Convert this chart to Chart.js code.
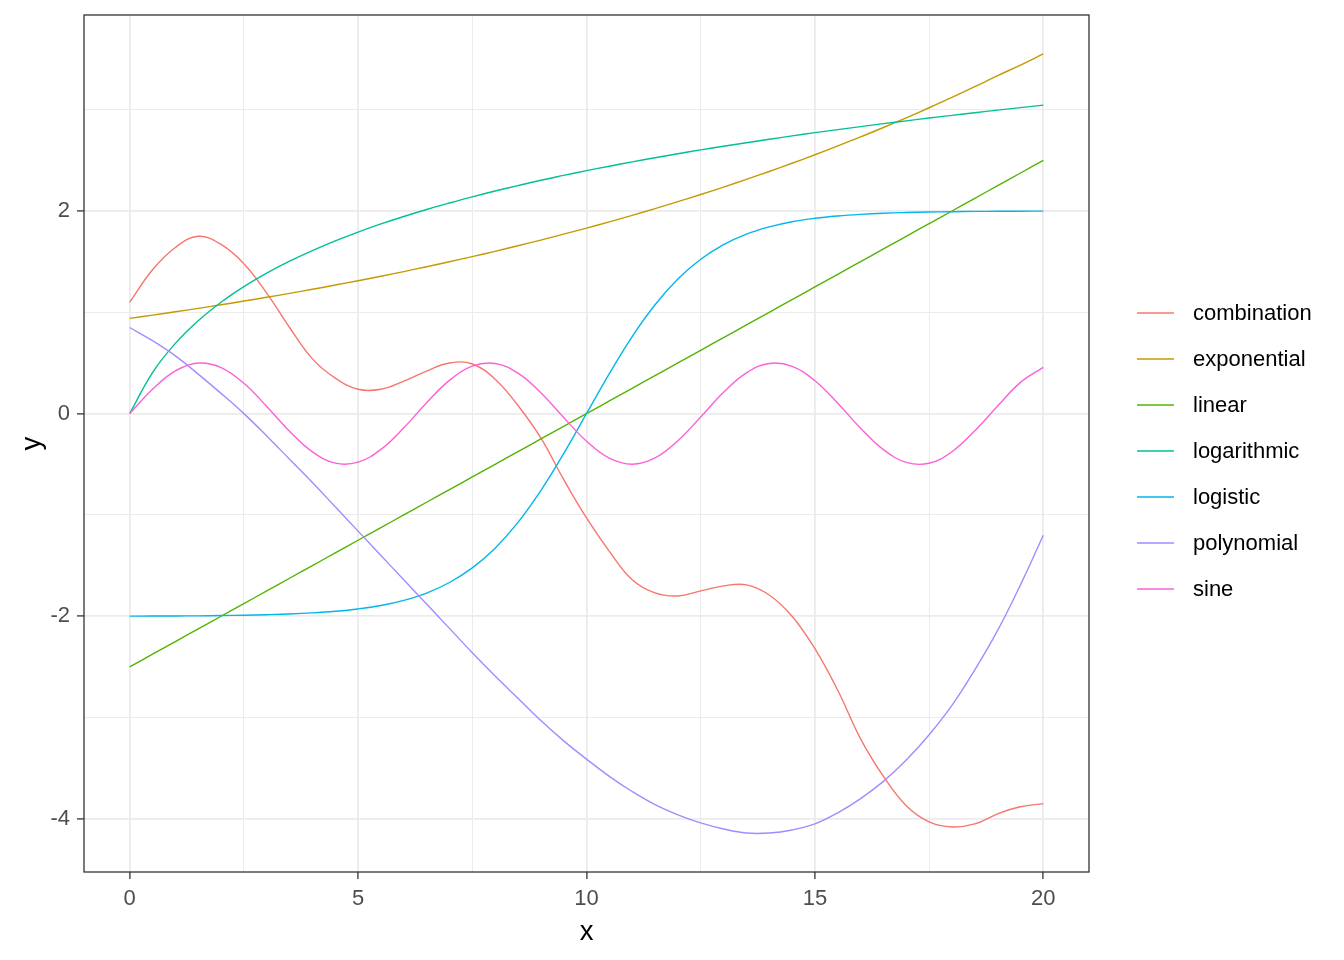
<!DOCTYPE html>
<html lang="en">
<head>
<meta charset="utf-8">
<title>Curves</title>
<script src="https://cdn.jsdelivr.net/npm/chart.js"></script>
<style>
  body { margin: 0; background: #fff; }
  #wrap { width: 1344px; height: 960px; position: relative; }
</style>
</head>
<body>
<div id="wrap"><canvas id="myChart"></canvas></div>
<script>
// x positions and values
const xs = [0, 0.5, 1, 1.5, 2, 2.5, 3, 3.5, 4, 4.5, 5, 5.5, 6, 6.5, 7, 7.5, 8, 8.5, 9, 9.5,
            10, 10.5, 11, 11.5, 12, 12.5, 13, 13.5, 14, 14.5, 15, 15.5, 16, 16.5, 17, 17.5, 18, 18.5, 19, 19.5, 20];

const combination = [1.10, 1.42, 1.64, 1.75, 1.67, 1.48, 1.19, 0.85, 0.54, 0.35, 0.24, 0.24, 0.32, 0.42, 0.50, 0.49, 0.34, 0.08, -0.24, -0.65,
                     -1.03, -1.36, -1.64, -1.77, -1.80, -1.75, -1.70, -1.69, -1.79, -2.00, -2.32, -2.73, -3.21, -3.58, -3.87, -4.03, -4.08, -4.05, -3.95, -3.88, -3.85];
const exponential = [0.940, 0.972, 1.005, 1.039, 1.074, 1.111, 1.148, 1.187, 1.227, 1.269, 1.312, 1.356, 1.402, 1.450, 1.499, 1.550, 1.602, 1.657, 1.713, 1.771,
                     1.831, 1.893, 1.957, 2.023, 2.092, 2.163, 2.236, 2.312, 2.390, 2.471, 2.555, 2.642, 2.731, 2.824, 2.920, 3.019, 3.121, 3.227, 3.336, 3.440, 3.550];
const linear = [-2.5, -2.375, -2.25, -2.125, -2, -1.875, -1.75, -1.625, -1.5, -1.375, -1.25, -1.125, -1, -0.875, -0.75, -0.625, -0.5, -0.375, -0.25, -0.125,
                0, 0.125, 0.25, 0.375, 0.5, 0.625, 0.75, 0.875, 1, 1.125, 1.25, 1.375, 1.5, 1.625, 1.75, 1.875, 2, 2.125, 2.25, 2.375, 2.5];
const logarithmic = [0, 0.405, 0.693, 0.916, 1.099, 1.253, 1.386, 1.504, 1.609, 1.705, 1.792, 1.872, 1.946, 2.015, 2.079, 2.140, 2.197, 2.251, 2.303, 2.351,
                     2.398, 2.442, 2.485, 2.526, 2.565, 2.603, 2.639, 2.674, 2.708, 2.741, 2.773, 2.803, 2.833, 2.862, 2.890, 2.918, 2.944, 2.970, 2.996, 3.020, 3.045];
const logistic = [-1.999, -1.998, -1.997, -1.996, -1.993, -1.990, -1.985, -1.978, -1.967, -1.951, -1.928, -1.894, -1.843, -1.771, -1.667, -1.523, -1.328, -1.074, -0.760, -0.395,
                  0, 0.395, 0.760, 1.074, 1.328, 1.523, 1.667, 1.771, 1.843, 1.894, 1.928, 1.951, 1.967, 1.978, 1.985, 1.990, 1.993, 1.996, 1.997, 1.998, 1.999];
const polynomial = [0.85, 0.72, 0.57, 0.39, 0.20, 0.00, -0.22, -0.45, -0.68, -0.92, -1.16, -1.40, -1.64, -1.88, -2.12, -2.36, -2.59, -2.81, -3.03, -3.23,
                    -3.41, -3.58, -3.73, -3.86, -3.96, -4.04, -4.10, -4.14, -4.14, -4.11, -4.05, -3.94, -3.80, -3.63, -3.42, -3.17, -2.88, -2.53, -2.14, -1.69, -1.20];
const sine = [0, 0.240, 0.421, 0.499, 0.455, 0.299, 0.071, -0.175, -0.378, -0.489, -0.479, -0.353, -0.140, 0.108, 0.328, 0.469, 0.495, 0.399, 0.206, -0.038,
              -0.272, -0.440, -0.500, -0.438, -0.268, -0.033, 0.210, 0.402, 0.495, 0.467, 0.325, 0.103, -0.144, -0.356, -0.481, -0.490, -0.376, -0.170, 0.075, 0.308, 0.456];

const seriesNames = ['combination', 'exponential', 'linear', 'logarithmic', 'logistic', 'polynomial', 'sine'];
const seriesValues = [combination, exponential, linear, logarithmic, logistic, polynomial, sine];
const seriesColors = ['#F8766D', '#C49A00', '#53B400', '#00C094', '#00B6EB', '#A58AFF', '#FB61D7'];

const xTicks = [0, 2.5, 5, 7.5, 10, 12.5, 15, 17.5, 20];
const xTickLabels = ['0', '', '5', '', '10', '', '15', '', '20'];
const yTicks = [-4, -3, -2, -1, 0, 1, 2, 3];
const yTickLabels = ['-4', '', '-2', '', '0', '', '2', ''];

const FONT = '"Liberation Sans", Arial, sans-serif';

function gridWidth(labels) {
    return c => labels[c.index] ? 1.8 : 1.0;
}
function tickColor(labels) {
    return c => labels[c.index] ? '#333333' : 'rgba(0,0,0,0)';
}

const panelBorder = {
    id: 'panelBorder',
    afterDatasetsDraw(chart) {
        const a = chart.chartArea, ctx = chart.ctx;
        ctx.save();
        ctx.strokeStyle = '#333333';
        ctx.lineWidth = 1.3;
        ctx.strokeRect(a.left, a.top, a.right - a.left, a.bottom - a.top);
        ctx.restore();
    }
};

const sideLegend = {
    id: 'sideLegend',
    afterDraw(chart) {
        const ctx = chart.ctx;
        ctx.save();
        ctx.font = '22px ' + FONT;
        ctx.textBaseline = 'middle';
        ctx.textAlign = 'left';
        chart.data.datasets.forEach((ds, i) => {
            const y = 313 + i * 46;
            ctx.strokeStyle = ds.borderColor;
            ctx.lineWidth = 1.4;
            ctx.beginPath();
            ctx.moveTo(1137, y);
            ctx.lineTo(1174, y);
            ctx.stroke();
            ctx.fillStyle = '#000000';
            ctx.fillText(ds.label, 1193, y + 1);
        });
        ctx.restore();
    }
};

const ctx = document.getElementById('myChart');
new Chart(ctx, {
    type: 'line',
    data: {
        datasets: seriesNames.map((name, i) => ({
            label: name,
            data: xs.map((x, j) => ({x: x, y: seriesValues[i][j]})),
            borderColor: seriesColors[i],
            backgroundColor: seriesColors[i],
            borderWidth: 1.4,
            pointRadius: 0,
            tension: 0.4,
            fill: false,
            order: seriesNames.length - i
        }))
    },
    options: {
        responsive: true,
        maintainAspectRatio: false,
        animation: false,
        layout: { padding: { left: 0, top: 15, right: 255, bottom: 0 } },
        plugins: { legend: { display: false }, tooltip: { enabled: false } },
        scales: {
            x: {
                type: 'linear',
                min: -1,
                max: 21,
                afterBuildTicks: axis => { axis.ticks = xTicks.map(v => ({value: v})); },
                afterFit: scale => { scale.height = 88; scale.paddingLeft = 0; scale.paddingRight = 0; },
                border: { display: false },
                grid: {
                    color: '#EBEBEB',
                    lineWidth: gridWidth(xTickLabels),
                    tickColor: tickColor(xTickLabels),
                    tickWidth: 1.3,
                    tickLength: 7
                },
                ticks: {
                    autoSkip: false,
                    maxRotation: 0,
                    padding: 7,
                    color: '#4D4D4D',
                    font: { family: FONT, size: 22 },
                    callback: (v, i) => xTickLabels[i]
                },
                title: {
                    display: true,
                    text: 'x',
                    color: '#000000',
                    font: { family: FONT, size: 27.5 },
                    padding: { top: 0, bottom: 11 }
                }
            },
            y: {
                type: 'linear',
                min: -4.5245,
                max: 3.9345,
                afterBuildTicks: axis => { axis.ticks = yTicks.map(v => ({value: v})); },
                afterFit: scale => { scale.width = 84; scale.paddingTop = 0; scale.paddingBottom = 0; },
                border: { display: false },
                grid: {
                    color: '#EBEBEB',
                    lineWidth: gridWidth(yTickLabels),
                    tickColor: tickColor(yTickLabels),
                    tickWidth: 1.3,
                    tickLength: 7
                },
                ticks: {
                    autoSkip: false,
                    padding: 7,
                    color: '#4D4D4D',
                    font: { family: FONT, size: 22 },
                    callback: (v, i) => yTickLabels[i]
                },
                title: {
                    display: true,
                    text: 'y',
                    color: '#000000',
                    font: { family: FONT, size: 27.5 },
                    padding: { top: 16, bottom: 0 }
                }
            }
        }
    },
    plugins: [panelBorder, sideLegend]
});
</script>
</body>
</html>
